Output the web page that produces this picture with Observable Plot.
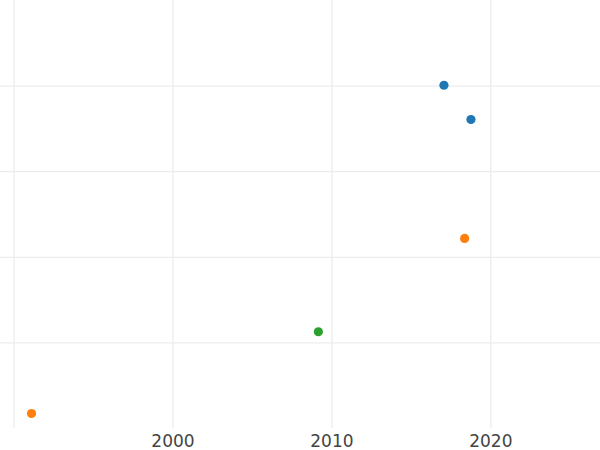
<!DOCTYPE html>
<html>
<head>
<meta charset="utf-8">
<script src="https://cdn.jsdelivr.net/npm/d3@7"></script>
<script src="https://cdn.jsdelivr.net/npm/@observablehq/plot@0.6"></script>
<style>
  html, body { margin: 0; padding: 0; background: #ffffff; }
  #chart svg { display: block; }
</style>
</head>
<body>
<div id="chart"></div>
<script>
// Data
const years  = [2017.05, 2018.75, 2018.35, 1991.1, 2009.15];
const values = [4.01, 3.61, 2.22, 0.175, 1.13];
const groups = ["A", "A", "B", "B", "C"];
const groupNames  = ["A", "B", "C"];
const groupColors = ["#1f77b4", "#ff7f0e", "#2ca02c"];
const xGrid = [1990, 2000, 2010, 2020];
const xTickLabels = [2000, 2010, 2020];
const yGrid = [1, 2, 3, 4];

const data = years.map((x, i) => ({x, y: values[i], g: groups[i]}));

const chart = Plot.plot({
  width: 600,
  height: 450,
  marginLeft: 0,
  marginRight: 0,
  marginTop: 0,
  marginBottom: 22,
  style: {background: "#ffffff", fontFamily: "'DejaVu Sans', sans-serif"},
  x: {domain: [1989.15, 2026.9], label: null},
  y: {domain: [0, 5], axis: null},
  color: {domain: groupNames, range: groupColors},
  marks: [
    Plot.ruleX(xGrid, {stroke: "#ececec", strokeWidth: 1.3, y1: 0, y2: 5}),
    Plot.ruleY(yGrid, {stroke: "#ececec", strokeWidth: 1.3}),
    Plot.dot(data, {x: "x", y: "y", fill: "g", r: 4.6, stroke: "none"}),
    Plot.axisX(xTickLabels, {tickSize: 0, tickPadding: 6, tickFormat: d => String(d), fontSize: 17, fontFamily: "'DejaVu Sans', sans-serif", fill: "#444444", label: null})
  ]
});
document.getElementById("chart").appendChild(chart);
</script>
</body>
</html>
